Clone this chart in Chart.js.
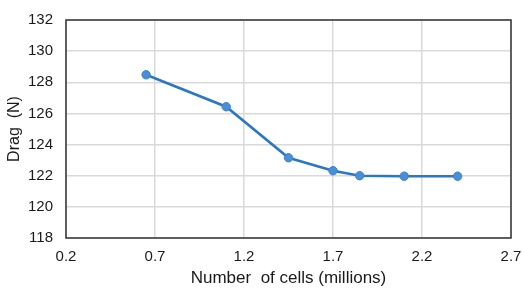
<!DOCTYPE html>
<html>
<head>
<meta charset="utf-8">
<script src="https://cdn.jsdelivr.net/npm/chart.js@4"></script>
<style>
  html, body { margin: 0; padding: 0; background: #fff; }
  #wrap { width: 522px; height: 289px; }
</style>
</head>
<body>
<div id="wrap"><canvas id="c" width="522" height="289"></canvas></div>
<script>
const cells = [0.65, 1.1, 1.45, 1.7, 1.85, 2.1, 2.4];
const drag = [128.48, 126.43, 123.15, 122.32, 122.0, 121.97, 121.97];
const xTicks = [0.2, 0.7, 1.2, 1.7, 2.2, 2.7];
const yTicks = [118, 120, 122, 124, 126, 128, 130, 132];

const frame = {
  id: 'frame',
  afterDatasetsDraw(chart) {
    const a = chart.chartArea, ctx = chart.ctx;
    ctx.save();
    ctx.strokeStyle = '#333333';
    ctx.lineWidth = 1.5;
    ctx.strokeRect(a.left, a.top, a.right - a.left, a.bottom - a.top);
    ctx.restore();
  }
};

new Chart(document.getElementById('c'), {
  type: 'scatter',
  data: {
    datasets: [{
      data: cells.map((x, i) => ({ x: x, y: drag[i] })),
      showLine: true,
      borderColor: '#2a78c4',
      borderWidth: 2.6,
      backgroundColor: '#4a8fd6',
      pointBackgroundColor: '#4a8fd6',
      pointBorderColor: '#3a82cc',
      pointBorderWidth: 1,
      pointRadius: 4.2,
      tension: 0
    }]
  },
  options: {
    responsive: false,
    animation: false,
    devicePixelRatio: 1,
    layout: { padding: { left: 0, right: 11, top: 20, bottom: 0 } },
    plugins: { legend: { display: false }, tooltip: { enabled: false } },
    scales: {
      x: {
        type: 'linear',
        min: 0.2, max: 2.7,
        afterBuildTicks(s) { s.ticks = xTicks.map(v => ({ value: v })); },
        afterFit(s) { s.height = 51; s.paddingRight = 0; s.paddingLeft = 0; },
        grid: { color: '#d9d9d9', lineWidth: 1.5, drawTicks: false },
        border: { display: false },
        ticks: {
          padding: 10,
          color: '#1a1a1a',
          font: { family: 'Liberation Sans, Arial, sans-serif', size: 15 },
          callback: v => v.toFixed(1)
        },
        title: {
          display: true,
          text: 'Number  of cells (millions)',
          color: '#1a1a1a',
          font: { family: 'Liberation Sans, Arial, sans-serif', size: 17 },
          padding: { top: 0, bottom: 0 }
        }
      },
      y: {
        min: 118, max: 132,
        afterBuildTicks(s) { s.ticks = yTicks.map(v => ({ value: v })); },
        afterFit(s) { s.width = 66; s.paddingTop = 0; s.paddingBottom = 0; },
        grid: { color: '#d9d9d9', lineWidth: 1.5, drawTicks: false },
        border: { display: false },
        ticks: {
          padding: 13,
          color: '#1a1a1a',
          font: { family: 'Liberation Sans, Arial, sans-serif', size: 15 }
        },
        title: {
          display: true,
          text: 'Drag  (N)',
          color: '#1a1a1a',
          font: { family: 'Liberation Sans, Arial, sans-serif', size: 16 },
          padding: { top: 5, bottom: 0 }
        }
      }
    }
  },
  plugins: [frame]
});
</script>
</body>
</html>
